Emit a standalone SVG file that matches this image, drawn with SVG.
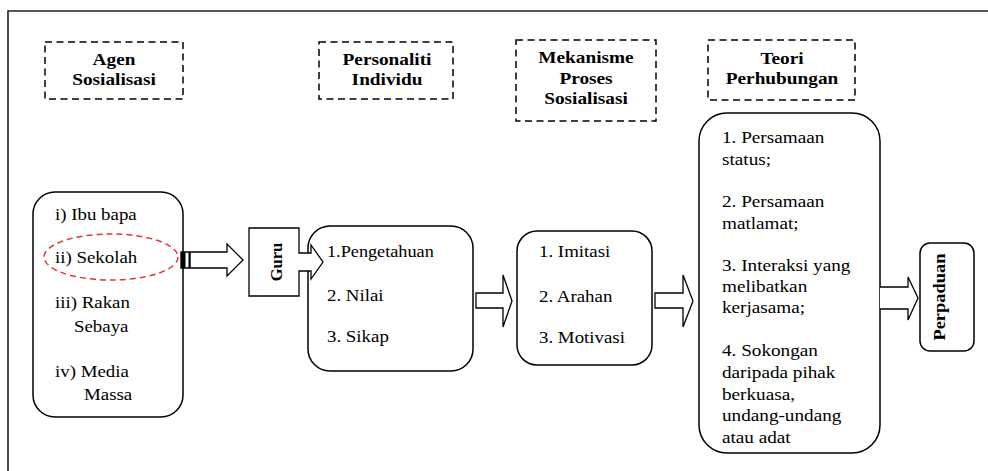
<svg xmlns="http://www.w3.org/2000/svg" width="988" height="471" viewBox="0 0 988 471">
<style>
.hd{font-family:"Liberation Serif","Times New Roman",serif;font-size:16.5px;font-weight:bold;text-anchor:middle;fill:#000}
.tx{font-family:"Liberation Serif","Times New Roman",serif;font-size:16px;fill:#000}
.dash{fill:none;stroke:#000;stroke-width:1.5;stroke-dasharray:7 4.5}
.box{fill:#fff;stroke:#000;stroke-width:1.5}
.arr{fill:#fff;stroke:#000;stroke-width:1.3;stroke-linejoin:miter}
</style>
<rect width="988" height="471" fill="#fff"/>
<path d="M8,471 V11 H988" fill="none" stroke="#222" stroke-width="1.6"/>

<g id="hdr-agen">
<rect class="dash" x="45" y="42" width="138" height="57"/>
<text class="hd" transform="translate(114,65) scale(1.17,1)">Agen</text>
<text class="hd" transform="translate(114,85) scale(1.17,1)">Sosialisasi</text>
</g>
<g id="hdr-personaliti">
<rect class="dash" x="319" y="42" width="134" height="57"/>
<text class="hd" transform="translate(387,65) scale(1.17,1)">Personaliti</text>
<text class="hd" transform="translate(387,85) scale(1.17,1)">Individu</text>
</g>
<g id="hdr-mekanisme">
<rect class="dash" x="516" y="40" width="140" height="81"/>
<text class="hd" transform="translate(586,63) scale(1.17,1)">Mekanisme</text>
<text class="hd" transform="translate(586,84) scale(1.17,1)">Proses</text>
<text class="hd" transform="translate(586,104) scale(1.17,1)">Sosialisasi</text>
</g>
<g id="hdr-teori">
<rect class="dash" x="708" y="40" width="147" height="60"/>
<text class="hd" transform="translate(782,64) scale(1.17,1)">Teori</text>
<text class="hd" transform="translate(782,84) scale(1.17,1)">Perhubungan</text>
</g>

<g id="node-agen">
<rect class="box" x="33" y="192" width="150" height="225" rx="22"/>
<text class="tx" transform="translate(55,220) scale(1.18,1)">i) Ibu bapa</text>
<text class="tx" transform="translate(55,263) scale(1.18,1)">ii) Sekolah</text>
<text class="tx" transform="translate(55,308) scale(1.18,1)">iii) Rakan</text>
<text class="tx" transform="translate(74,332) scale(1.18,1)">Sebaya</text>
<text class="tx" transform="translate(55,377) scale(1.18,1)">iv) Media</text>
<text class="tx" transform="translate(84,400) scale(1.18,1)">Massa</text>
<ellipse cx="111" cy="257" rx="67" ry="23" fill="none" stroke="#e8303a" stroke-width="1.5" stroke-dasharray="6 4"/>
</g>

<g id="node-personaliti">
<rect class="box" x="308" y="226" width="165" height="145" rx="22"/>
<text class="tx" transform="translate(327,257) scale(1.14,1)">1.Pengetahuan</text>
<text class="tx" transform="translate(327,301) scale(1.18,1)">2. Nilai</text>
<text class="tx" transform="translate(327,342) scale(1.18,1)">3. Sikap</text>
</g>

<g id="node-guru">
<path class="arr" d="M249,228 H299 V253 H311 V245 L323,262 L311,279 V271 H299 V296 H249 Z"/>
<text class="hd" transform="translate(282,262) rotate(-90)">Guru</text>
</g>

<g id="node-mekanisme">
<rect class="box" x="517" y="231" width="135" height="134" rx="20"/>
<text class="tx" transform="translate(539,257) scale(1.18,1)">1. Imitasi</text>
<text class="tx" transform="translate(539,302) scale(1.18,1)">2. Arahan</text>
<text class="tx" transform="translate(539,343) scale(1.18,1)">3. Motivasi</text>
</g>

<g id="node-teori">
<rect class="box" x="699" y="113" width="181" height="340" rx="28"/>
<text class="tx" transform="translate(722,143) scale(1.2,1)">1. Persamaan</text>
<text class="tx" transform="translate(722,165) scale(1.2,1)">status;</text>
<text class="tx" transform="translate(722,207) scale(1.2,1)">2. Persamaan</text>
<text class="tx" transform="translate(722,229) scale(1.2,1)">matlamat;</text>
<text class="tx" transform="translate(722,271) scale(1.2,1)">3. Interaksi yang</text>
<text class="tx" transform="translate(722,292) scale(1.2,1)">melibatkan</text>
<text class="tx" transform="translate(722,313) scale(1.2,1)">kerjasama;</text>
<text class="tx" transform="translate(722,356) scale(1.2,1)">4. Sokongan</text>
<text class="tx" transform="translate(722,378) scale(1.2,1)">daripada pihak</text>
<text class="tx" transform="translate(722,400) scale(1.2,1)">berkuasa,</text>
<text class="tx" transform="translate(722,421) scale(1.2,1)">undang-undang</text>
<text class="tx" transform="translate(722,443) scale(1.2,1)">atau adat</text>
</g>

<g id="node-perpaduan">
<rect class="box" x="920" y="243" width="54" height="108" rx="10"/>
<text class="hd" transform="translate(945,297) rotate(-90) scale(1.12,1)">Perpaduan</text>
</g>

<g id="connectors">
<path class="arr" d="M181,252 H227 V244 L243,260 L227,276 V268 H181 Z"/>
<rect x="181" y="252" width="4.5" height="16" fill="#000"/>
<rect x="188.5" y="252" width="2.2" height="16" fill="#000"/>
<path class="arr" d="M476,293 H503 V275 L512,301 L503,327 V308 H476 Z"/>
<path class="arr" d="M655,293 H683 V275 L693,301 L683,327 V308 H655 Z"/>
<path class="arr" d="M880,287 H908 V277 L918,298 L908,320 V309 H880"/>
</g>
</svg>
